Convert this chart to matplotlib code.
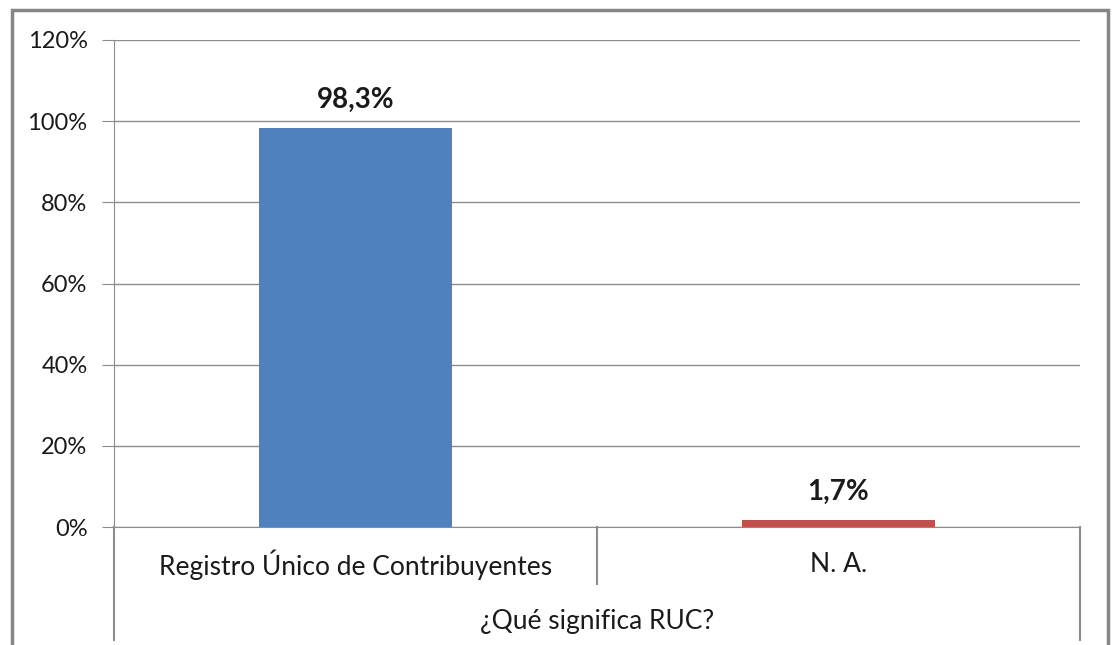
import matplotlib
matplotlib.use("Agg")
import matplotlib.pyplot as plt
from matplotlib.lines import Line2D
from matplotlib.patches import Rectangle
from matplotlib.ticker import FuncFormatter

# datos
categories = ["Registro Único de Contribuyentes", "N. A."]
values = [0.983, 0.017]
value_labels = ["98,3%", "1,7%"]
bar_colors = ["#4F81BD", "#C0504D"]
axis_title = "¿Qué significa RUC?"
yticks = [0, 0.2, 0.4, 0.6, 0.8, 1.0, 1.2]

plt.rcParams["font.family"] = ["Lato", "DejaVu Sans"]
grid_col = "#8C8C8C"
txt_col = "#1A1A1A"

fig = plt.figure(figsize=(11.14, 6.45), dpi=100)
W, H = 1114, 645
ax = fig.add_axes([114 / W, 1 - 527 / H, 966 / W, 487 / H])

x = range(len(categories))
ax.bar(x, values, width=0.4, color=bar_colors, zorder=3)
for xi, v, lab in zip(x, values, value_labels):
    ax.annotate(lab, (xi, v), xytext=(0, 11), textcoords="offset points",
                ha="center", va="bottom", fontsize=20, fontweight="bold",
                color=txt_col)

ax.set_xlim(-0.5, 1.5)
ax.set_ylim(0, 1.2)
ax.set_yticks(yticks)
ax.yaxis.set_major_formatter(FuncFormatter(lambda v, p: f"{v*100:.0f}%"))
ax.grid(axis="y", color=grid_col, linewidth=1, zorder=0)
ax.set_xticks([])

for s in ["top", "right"]:
    ax.spines[s].set_visible(False)
ax.spines["left"].set_color(grid_col)
ax.spines["bottom"].set_color(grid_col)
ax.tick_params(axis="y", length=9, color=grid_col, labelsize=17, pad=10,
               labelcolor=txt_col)

# etiquetas de categoria y separadores
for xi, c in zip(x, categories):
    ax.text(xi, -0.078, c, transform=ax.get_xaxis_transform(), ha="center",
            va="center", fontsize=19, color=txt_col)
ax.text(0.5, -0.195, axis_title, transform=ax.transAxes, ha="center",
        va="center", fontsize=19, color=txt_col)
for xa, y0 in [(0, -0.232), (1, -0.232), (0.5, -0.117)]:
    ax.add_line(Line2D([xa, xa], [0, y0], transform=ax.transAxes,
                       color=grid_col, linewidth=1.5, clip_on=False))

fig.patches.append(Rectangle((12 / W, -0.05), 1096 / W, 1.05 - 10 / H,
                             transform=fig.transFigure, fill=False,
                             edgecolor="#868686", linewidth=2.5))

fig.savefig("out.png", dpi=100)
